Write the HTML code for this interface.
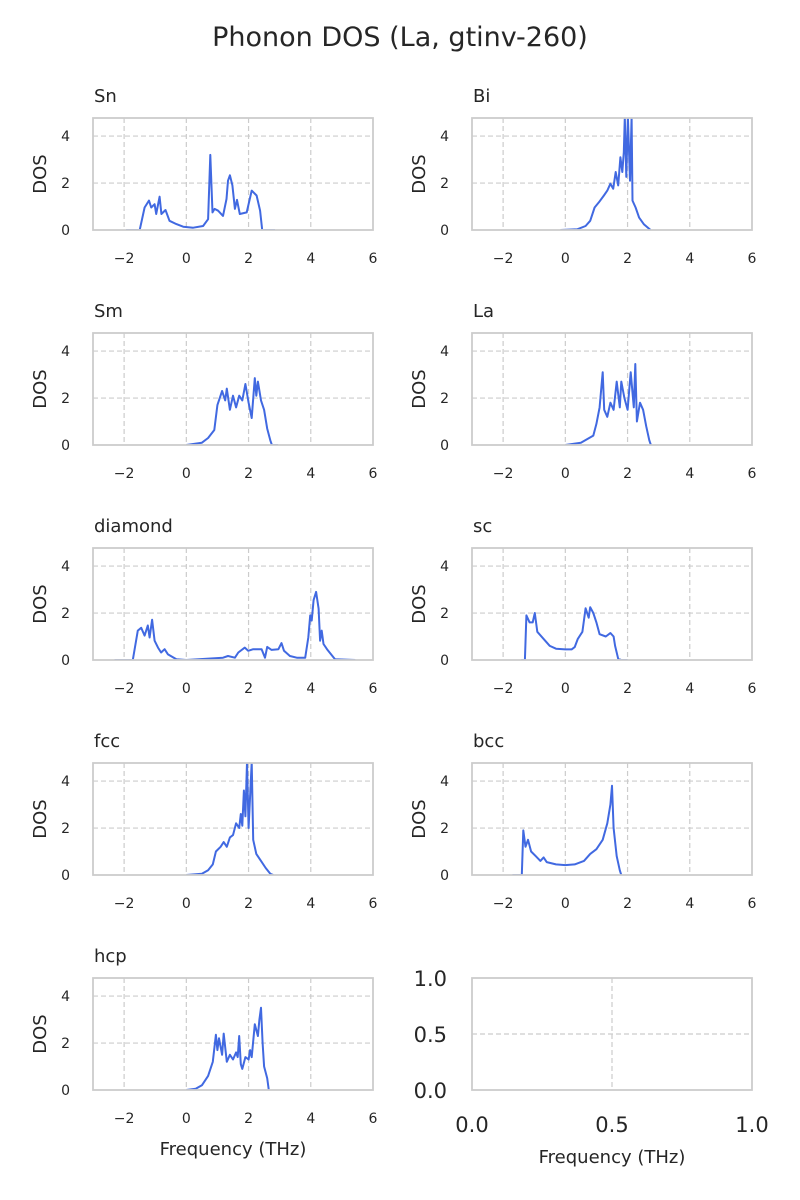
<!DOCTYPE html>
<html><head><meta charset="utf-8"><style>
body{margin:0;background:#fff;}
svg{display:block;font-family:"DejaVu Sans","Liberation Sans",sans-serif;}
</style></head><body>
<svg id="fig" width="800" height="1200">
<text x="400" y="46" text-anchor="middle" font-size="27" fill="#262626">Phonon DOS (La, gtinv-260)</text>
</svg>
<script>
const panelNames = ["Sn","Bi","Sm","La","diamond","sc","fcc","bcc","hcp"];
const xTicks = [-2,0,2,4,6];
const yTicks = [0,2,4];
const snX=[-1.94,-1.5,-1.34,-1.2,-1.13,-1.02,-0.97,-0.86,-0.8,-0.67,-0.54,-0.32,-0.1,0.22,0.54,0.7,0.77,0.84,0.91,1.02,1.18,1.29,1.34,1.4,1.48,1.56,1.63,1.72,1.94,2.1,2.26,2.37,2.44,2.85];
const snY=[0,0,0.96,1.25,0.96,1.1,0.68,1.42,0.68,0.85,0.39,0.25,0.14,0.1,0.17,0.46,3.2,0.75,0.9,0.82,0.6,1.32,2.1,2.33,1.9,0.9,1.28,0.68,0.75,1.68,1.47,0.82,0,0];
const biX=[-0.16,0.38,0.65,0.8,0.94,1.08,1.24,1.35,1.45,1.54,1.62,1.7,1.77,1.83,1.88,1.91,1.96,2.01,2.08,2.13,2.16,2.26,2.37,2.53,2.74];
const biY=[0,0.03,0.17,0.39,0.96,1.18,1.47,1.68,1.97,1.76,2.47,1.9,3.1,2.47,3.3,4.8,2.26,4.8,2.1,4.8,1.25,0.96,0.53,0.24,0];
const smX=[0,0.5,0.7,0.9,1.0,1.15,1.25,1.3,1.4,1.5,1.6,1.7,1.8,1.9,2.0,2.1,2.2,2.25,2.3,2.4,2.5,2.6,2.7,2.75,2.95];
const smY=[0,0.1,0.3,0.64,1.7,2.3,1.9,2.4,1.5,2.1,1.6,2.1,1.9,2.6,1.8,1.15,2.85,2.1,2.7,1.9,1.5,0.7,0.2,0,0];
const laX=[0,0.5,0.9,1.0,1.1,1.2,1.25,1.35,1.45,1.55,1.65,1.75,1.8,1.9,2.0,2.1,2.2,2.25,2.3,2.4,2.5,2.6,2.7,2.75];
const laY=[0,0.1,0.4,0.9,1.6,3.1,1.5,1.2,1.8,1.5,2.7,1.6,2.7,2.0,1.5,3.1,1.6,3.45,1.0,1.8,1.5,0.8,0.2,0];
const diX=[-2.31,-1.72,-1.56,-1.45,-1.34,-1.24,-1.18,-1.1,-1.02,-0.91,-0.81,-0.7,-0.59,-0.32,0,1.18,1.34,1.56,1.67,1.88,1.99,2.15,2.42,2.53,2.6,2.74,2.96,3.06,3.14,3.33,3.55,3.82,3.92,3.98,4.03,4.09,4.17,4.25,4.3,4.35,4.41,4.52,4.78,5.43];
const diY=[0,0,1.25,1.37,1.04,1.47,0.96,1.71,0.82,0.53,0.32,0.46,0.24,0.03,0,0.1,0.17,0.1,0.32,0.53,0.39,0.46,0.46,0.1,0.56,0.43,0.46,0.72,0.39,0.17,0.1,0.1,0.96,1.9,1.68,2.55,2.9,2.19,0.82,1.25,0.68,0.46,0.03,0];
const scX=[-1.42,-1.3,-1.25,-1.15,-1.05,-0.98,-0.9,-0.7,-0.5,-0.3,0,0.2,0.3,0.4,0.55,0.65,0.75,0.8,0.9,1.0,1.1,1.3,1.45,1.55,1.6,1.7,1.8,2.0];
const scY=[0,0,1.9,1.6,1.6,2.0,1.2,0.9,0.6,0.48,0.45,0.45,0.55,0.9,1.2,2.2,1.8,2.25,2.0,1.6,1.1,1.0,1.15,1.0,0.6,0.05,0,0];
const fccX=[0,0.5,0.7,0.85,0.95,1.1,1.2,1.3,1.4,1.5,1.6,1.7,1.75,1.8,1.85,1.9,1.95,2.0,2.1,2.15,2.25,2.4,2.55,2.7,2.8];
const fccY=[0,0.05,0.2,0.45,1.0,1.2,1.4,1.2,1.6,1.7,2.2,2.0,2.6,2.1,3.6,2.5,4.8,2.0,4.8,1.5,0.9,0.6,0.3,0.05,0];
const bccX=[-1.7,-1.4,-1.35,-1.28,-1.2,-1.1,-0.95,-0.8,-0.7,-0.6,-0.3,0,0.3,0.6,0.8,1.0,1.2,1.35,1.45,1.5,1.55,1.65,1.75,1.8];
const bccY=[0,0,1.9,1.2,1.5,1.0,0.8,0.6,0.75,0.55,0.45,0.42,0.45,0.6,0.9,1.1,1.5,2.2,3.0,3.8,2.0,0.8,0.2,0];
const hcpX=[0,0.3,0.5,0.7,0.85,0.95,1.0,1.05,1.15,1.2,1.3,1.4,1.5,1.6,1.65,1.7,1.75,1.8,1.9,2.0,2.05,2.1,2.2,2.3,2.35,2.4,2.45,2.5,2.6,2.65];
const hcpY=[0,0.05,0.2,0.6,1.2,2.35,1.7,2.2,1.5,2.4,1.2,1.5,1.3,1.6,1.4,2.3,1.1,0.9,1.4,1.3,1.7,1.4,2.8,2.3,3.0,3.5,2.0,1.0,0.5,0];
const seriesX=[snX,biX,smX,laX,diX,scX,fccX,bccX,hcpX];
const seriesY=[snY,biY,smY,laY,diY,scY,fccY,bccY,hcpY];
const emptyTicks=[0.0,0.5,1.0];

const NS="http://www.w3.org/2000/svg";
const svg=document.getElementById('fig');
function mk(tag,attrs,parent){const e=document.createElementNS(NS,tag);for(const k in attrs)e.setAttribute(k,attrs[k]);(parent||svg).appendChild(e);return e;}
const W=280,H=112,XMIN=-3,XMAX=6,YMAX=4.77;
function panelPos(i){return {x: i%2===0?93:472, y:118+Math.floor(i/2)*215};}

for(let i=0;i<panelNames.length;i++){
  const p=panelPos(i);
  const sx=v=>p.x+(v-XMIN)/(XMAX-XMIN)*W;
  const sy=v=>p.y+H-v/YMAX*H;
  const g=mk('g',{});
  
  
  xTicks.forEach(t=>{
    if(t>XMIN&&t<XMAX){const l=mk('line',{x1:sx(t),x2:sx(t),y1:p.y,y2:p.y+H,stroke:'#cccccc','stroke-width':1.2,'stroke-dasharray':'5,3'},g);
    
    }
    const tx=mk('text',{x:sx(t),y:p.y+H+33,'text-anchor':'middle','font-size':14,fill:'#262626'},g);
    tx.textContent=(t<0?'\u2212'+(-t):t);
    
    
  });
  yTicks.forEach(t=>{
    if(t>0){const l=mk('line',{x1:p.x,x2:p.x+W,y1:sy(t),y2:sy(t),stroke:'#cccccc','stroke-width':1.2,'stroke-dasharray':'5,3'},g);
    
    }
    const ty=mk('text',{x:p.x-23,y:sy(t)+5,'text-anchor':'end','font-size':14,fill:'#262626'},g);
    ty.textContent=t;
    
    
  });
  const pts=seriesX[i].map((x,j)=>sx(x).toFixed(1)+','+sy(Math.min(seriesY[i][j],YMAX+0.1)).toFixed(1)).join(' ');
  const clip=mk('clipPath',{id:'c'+i},g);mk('rect',{x:p.x,y:p.y,width:W,height:H},clip);
  const pl=mk('polyline',{points:pts,fill:'none',stroke:'#4169e1','stroke-width':2,'stroke-linejoin':'round','clip-path':'url(#c'+i+')'},g);
  
  
  const fr=mk('rect',{x:p.x,y:p.y,width:W,height:H,fill:'none',stroke:'#cccccc','stroke-width':1.8},g);
  
  
  const ti=mk('text',{x:p.x+1,y:p.y-16,'font-size':18,fill:'#262626'},g);
  ti.textContent=panelNames[i];
  
  
  const yl=mk('text',{x:0,y:0,'font-size':18,fill:'#262626','text-anchor':'middle',transform:'translate('+(p.x-47)+','+(p.y+H/2)+') rotate(-90)'},g);
  yl.textContent='DOS';
  
  
  if(i===8){const xl=mk('text',{x:p.x+W/2,y:p.y+H+65,'text-anchor':'middle','font-size':18,fill:'#262626'},g);
    xl.textContent='Frequency (THz)';
    
    }
}
// empty panel
(function(){
  const p=panelPos(9);
  const sx=v=>p.x+v*W, sy=v=>p.y+H-v*H;
  const g=mk('g',{});
  
  
  mk('line',{x1:sx(0.5),x2:sx(0.5),y1:p.y,y2:p.y+H,stroke:'#cccccc','stroke-width':1.2,'stroke-dasharray':'5,3'},g);
  mk('line',{x1:p.x,x2:p.x+W,y1:sy(0.5),y2:sy(0.5),stroke:'#cccccc','stroke-width':1.2,'stroke-dasharray':'5,3'},g);
  emptyTicks.forEach(t=>{
    const tx=mk('text',{x:sx(t),y:p.y+H+42,'text-anchor':'middle','font-size':21,fill:'#262626'},g);
    tx.textContent=t.toFixed(1);
    
    
    const ty=mk('text',{x:p.x-25,y:sy(t)+8,'text-anchor':'end','font-size':21,fill:'#262626'},g);
    ty.textContent=t.toFixed(1);
    
    
  });
  const fr=mk('rect',{x:p.x,y:p.y,width:W,height:H,fill:'none',stroke:'#cccccc','stroke-width':1.8},g);
  
  
  const xl=mk('text',{x:p.x+W/2,y:p.y+H+73,'text-anchor':'middle','font-size':18,fill:'#262626'},g);
  xl.textContent='Frequency (THz)';
  
  
})();
</script>
</body></html>
